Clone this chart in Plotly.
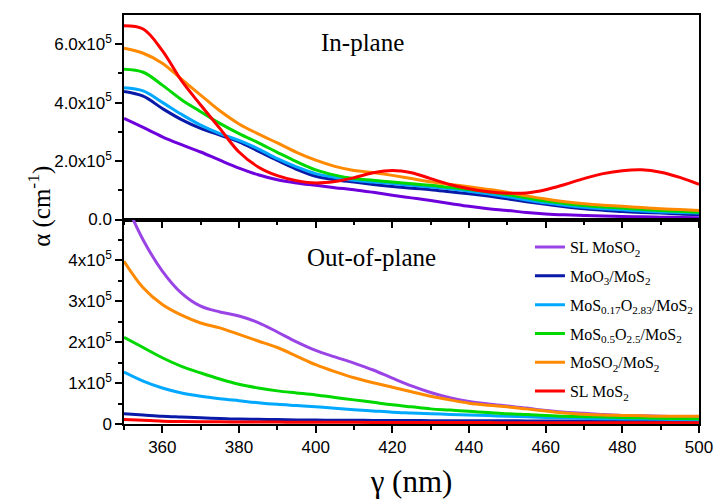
import plotly.graph_objects as go
from plotly.subplots import make_subplots

wavelength = [350, 355, 360, 365, 370, 375, 380, 385, 390, 395, 400, 405, 410, 415, 420,
              425, 430, 435, 440, 445, 450, 455, 460, 465, 470, 475, 480, 485, 490, 495, 500]

series_names = ["SL MoSO<sub>2</sub>", "MoO<sub>3</sub>/MoS<sub>2</sub>",
                "MoS<sub>0.17</sub>O<sub>2.83</sub>/MoS<sub>2</sub>",
                "MoS<sub>0.5</sub>O<sub>2.5</sub>/MoS<sub>2</sub>",
                "MoSO<sub>2</sub>/MoS<sub>2</sub>", "SL MoS<sub>2</sub>"]

# In-plane absorption (units of 1e5 cm^-1)
inplane_sl_mosO2 = [3.46, 3.15, 2.83, 2.56, 2.31, 2.03, 1.76, 1.53, 1.36, 1.25, 1.17, 1.09, 1.02, 0.93, 0.83,
                    0.74, 0.65, 0.55, 0.45, 0.37, 0.31, 0.24, 0.19, 0.16, 0.14, 0.12, 0.10, 0.09, 0.08, 0.07, 0.06]
inplane_moo3 = [4.38, 4.22, 3.80, 3.42, 3.12, 2.89, 2.66, 2.34, 2.02, 1.72, 1.48, 1.36, 1.28, 1.20, 1.13,
                1.07, 1.02, 0.95, 0.88, 0.80, 0.71, 0.61, 0.52, 0.44, 0.37, 0.32, 0.27, 0.24, 0.22, 0.19, 0.17]
inplane_s017 = [4.51, 4.40, 4.01, 3.60, 3.23, 2.94, 2.71, 2.42, 2.08, 1.80, 1.57, 1.44, 1.34, 1.28, 1.23,
                1.17, 1.11, 1.05, 0.97, 0.88, 0.78, 0.67, 0.57, 0.49, 0.42, 0.37, 0.33, 0.29, 0.26, 0.24, 0.22]
inplane_s05 = [5.14, 5.04, 4.60, 4.10, 3.69, 3.29, 2.94, 2.63, 2.30, 1.98, 1.70, 1.52, 1.40, 1.34, 1.28,
               1.22, 1.17, 1.10, 1.03, 0.95, 0.85, 0.74, 0.63, 0.55, 0.48, 0.43, 0.39, 0.35, 0.31, 0.28, 0.25]
inplane_moso2 = [5.86, 5.69, 5.35, 4.80, 4.26, 3.72, 3.27, 2.93, 2.62, 2.30, 2.03, 1.82, 1.68, 1.61, 1.51,
                 1.40, 1.29, 1.20, 1.12, 1.03, 0.93, 0.81, 0.70, 0.61, 0.54, 0.49, 0.45, 0.41, 0.37, 0.34, 0.31]
inplane_sl_mos2 = [6.63, 6.52, 5.78, 4.75, 3.92, 3.12, 2.31, 1.80, 1.50, 1.33, 1.25, 1.30, 1.43, 1.60, 1.68,
                   1.60, 1.40, 1.20, 1.05, 0.95, 0.90, 0.91, 1.02, 1.20, 1.40, 1.57, 1.67, 1.70, 1.62, 1.44, 1.20]

# Out-of-plane absorption (units of 1e5 cm^-1)
outplane_sl_mosO2 = [5.50, 4.50, 3.74, 3.20, 2.88, 2.74, 2.64, 2.48, 2.25, 2.01, 1.80, 1.64, 1.49, 1.32, 1.12,
                     0.93, 0.77, 0.64, 0.55, 0.49, 0.44, 0.39, 0.33, 0.29, 0.26, 0.23, 0.21, 0.20, 0.19, 0.18, 0.17]
outplane_moo3 = [0.25, 0.22, 0.19, 0.17, 0.15, 0.135, 0.12, 0.115, 0.11, 0.10, 0.095, 0.092, 0.09, 0.088, 0.086,
                 0.084, 0.082, 0.08, 0.079, 0.078, 0.077, 0.076, 0.075, 0.074, 0.072, 0.071, 0.07, 0.069, 0.067, 0.066, 0.065]
outplane_s017 = [1.27, 1.05, 0.88, 0.76, 0.68, 0.62, 0.57, 0.52, 0.48, 0.45, 0.42, 0.385, 0.35, 0.32, 0.29,
                 0.27, 0.25, 0.235, 0.22, 0.205, 0.19, 0.175, 0.16, 0.15, 0.14, 0.13, 0.125, 0.12, 0.115, 0.11, 0.10]
outplane_s05 = [2.12, 1.87, 1.62, 1.41, 1.25, 1.10, 0.97, 0.88, 0.81, 0.76, 0.71, 0.65, 0.59, 0.53, 0.47,
                0.42, 0.37, 0.34, 0.31, 0.28, 0.25, 0.23, 0.21, 0.19, 0.18, 0.17, 0.16, 0.15, 0.14, 0.135, 0.13]
outplane_moso2 = [3.98, 3.33, 2.92, 2.66, 2.47, 2.35, 2.19, 2.03, 1.87, 1.66, 1.45, 1.28, 1.13, 1.01, 0.90,
                  0.79, 0.68, 0.59, 0.51, 0.46, 0.42, 0.37, 0.32, 0.27, 0.24, 0.22, 0.21, 0.20, 0.19, 0.19, 0.19]
outplane_sl_mos2 = [0.11, 0.09, 0.07, 0.06, 0.055, 0.052, 0.05, 0.048, 0.046, 0.044, 0.042, 0.041, 0.04, 0.039, 0.038,
                    0.037, 0.036, 0.035, 0.034, 0.034, 0.033, 0.033, 0.032, 0.032, 0.031, 0.031, 0.03, 0.03, 0.03, 0.03, 0.03]

inplane = [inplane_sl_mosO2, inplane_moo3, inplane_s017, inplane_s05, inplane_moso2, inplane_sl_mos2]
outplane = [outplane_sl_mosO2, outplane_moo3, outplane_s017, outplane_s05, outplane_moso2, outplane_sl_mos2]

colors_top = ["#6E00DC", "#0A1AA8", "#00A8FF", "#00D800", "#FF8A00", "#FF0000"]
colors_bottom = ["#9A44E6", "#0A1AA8", "#00A8FF", "#00D800", "#FF8A00", "#FF0000"]

top_ticks = [0, 2e5, 4e5, 6e5]
top_ticktext = ["0.0", "2.0x10<sup>5</sup>", "4.0x10<sup>5</sup>", "6.0x10<sup>5</sup>"]
bottom_ticks = [0, 1e5, 2e5, 3e5, 4e5]
bottom_ticktext = ["0", "1x10<sup>5</sup>", "2x10<sup>5</sup>", "3x10<sup>5</sup>", "4x10<sup>5</sup>"]
x_ticks = [360, 380, 400, 420, 440, 460, 480, 500]
x_minor = [350, 370, 390, 410, 430, 450, 470, 490]

fig = make_subplots(rows=2, cols=1, shared_xaxes=True, vertical_spacing=0)

for i, name in enumerate(series_names):
    fig.add_trace(go.Scatter(x=wavelength, y=[v * 1e5 for v in inplane[i]], mode="lines",
                             line=dict(color=colors_top[i], width=3, shape="spline", smoothing=1.0),
                             name=name, legendgroup=f"g{i}", showlegend=False), row=1, col=1)
for i, name in enumerate(series_names):
    fig.add_trace(go.Scatter(x=wavelength, y=[v * 1e5 for v in outplane[i]], mode="lines",
                             line=dict(color=colors_bottom[i], width=3, shape="spline", smoothing=1.0),
                             name=name, legendgroup=f"g{i}", showlegend=True), row=2, col=1)

tickfont = dict(family="Liberation Sans, Arial", size=17, color="black")
axis_common = dict(showline=True, linecolor="black", linewidth=1.5, mirror=True,
                   ticks="outside", ticklen=7, tickwidth=1.5, tickcolor="black",
                   showgrid=False, zeroline=False, tickfont=tickfont, automargin=False)

serif = "Liberation Serif, DejaVu Serif, serif"

fig.update_xaxes(range=[350, 500], tickmode="array", tickvals=x_ticks,
                 ticktext=[str(v) for v in x_ticks],
                 minor=dict(tickmode="array", tickvals=x_minor, ticks="outside", ticklen=4,
                            tickwidth=1.5, tickcolor="black"),
                 **axis_common)
fig.update_xaxes(showticklabels=False, row=1, col=1)
fig.update_xaxes(title=dict(text="γ (nm)", standoff=18,
                            font=dict(family=serif, size=31, color="black")), row=2, col=1)
fig.update_yaxes(range=[0, 7.0e5], tickmode="array", tickvals=top_ticks, ticktext=top_ticktext,
                 minor=dict(tickmode="array", tickvals=[1e5, 3e5, 5e5], ticks="outside", ticklen=4,
                            tickwidth=1.5, tickcolor="black"),
                 row=1, col=1, **axis_common)
fig.update_yaxes(range=[0, 5.0e5], tickmode="array", tickvals=bottom_ticks, ticktext=bottom_ticktext,
                 minor=dict(tickmode="array", tickvals=[0.5e5, 1.5e5, 2.5e5, 3.5e5, 4.5e5], ticks="outside",
                            ticklen=4, tickwidth=1.5, tickcolor="black"),
                 row=2, col=1, **axis_common)

fig.add_annotation(text="In-plane", x=0.414, y=0.932, xref="paper", yref="paper",
                   xanchor="center", yanchor="middle",
                   showarrow=False, font=dict(family=serif, size=25, color="black"))
fig.add_annotation(text="Out-of-plane", x=0.431, y=0.408, xref="paper", yref="paper",
                   xanchor="center", yanchor="middle",
                   showarrow=False, font=dict(family=serif, size=25, color="black"))
fig.add_annotation(text="α (cm<sup>-1</sup>)", x=-0.146, y=0.531, xref="paper", yref="paper",
                   xanchor="center", yanchor="middle",
                   showarrow=False, textangle=-90, font=dict(family=serif, size=25, color="black"))

fig.update_layout(
    width=714, height=499,
    margin=dict(l=124, r=15, t=15, b=75),
    paper_bgcolor="white", plot_bgcolor="white",
    showlegend=True,
    legend=dict(x=0.706, y=0.474, xanchor="left", yanchor="top",
                bgcolor="rgba(0,0,0,0)", traceorder="grouped", tracegroupgap=5,
                font=dict(family=serif, size=16, color="black")),
)

fig.write_html("out.html")
